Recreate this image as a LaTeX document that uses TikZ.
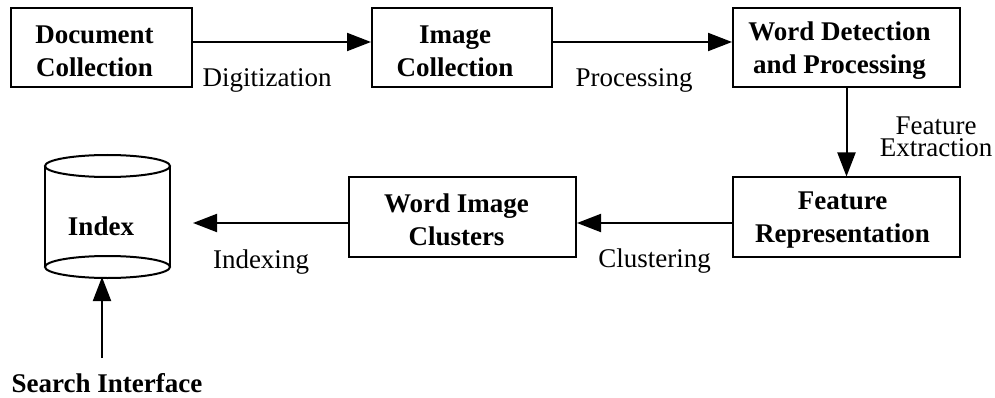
\documentclass[tikz,border=0pt]{standalone}
\usepackage{fontspec}
\setmainfont{Liberation Serif}
\usetikzlibrary{arrows.meta}
\begin{document}
\begin{tikzpicture}[x=1pt,y=1pt,
  box/.style={draw,line width=2pt,minimum width=#1,minimum height=79pt,inner sep=0pt},
  box/.default=181pt,
  boxtext/.style={inner sep=0pt,align=center,font=\fontsize{27}{33}\selectfont\bfseries,xshift=-7pt,yshift=-3pt},
  lbl/.style={font=\fontsize{27}{22}\selectfont,inner sep=0pt,align=center},
  blbl/.style={font=\fontsize{27}{33}\selectfont\bfseries,inner sep=0pt},
  conn/.style={line width=2pt,-{Triangle[length=24pt,width=18pt]}},
  cyl/.style={line width=2pt}
]
\useasboundingbox (0,0) rectangle (995,-398);
% boxes
\node[box=181pt] (doc) at (101.5,-48) {};
\node[box=180pt] (img) at (462,-48) {};
\node[box=227pt] (word) at (846.5,-48) {};
\node[box=227pt] (feat) at (846.5,-217) {};
\node[box=227pt] (clus) at (462.5,-217) {};
\node[boxtext] (doct) at (doc.center) {Document\\Collection};
\node[boxtext] (imgt) at (img.center) {Image\\Collection};
\node[boxtext] (wordt) at (word.center) {Word Detection\\and Processing};
\node[boxtext,xshift=3pt] (featt) at (feat.center) {Feature\\Representation};
\node[boxtext,xshift=1pt] (clust) at (clus.center) {Word Image\\Clusters};
% index cylinder
\draw[cyl] (107.5,-166) ellipse [x radius=62.5, y radius=11];
\draw[cyl] (45,-166) -- (45,-267) (170,-166) -- (170,-267);
\draw[cyl] (107.5,-267) ellipse [x radius=62.5, y radius=11];
\node[blbl,anchor=base] (index) at (101,-235) {Index};
\node[blbl,anchor=base] (search) at (107,-392) {Search Interface};
\coordinate (idxin) at (193,-223);
\coordinate (sfrom) at (102,-358);
\coordinate (sto) at (102,-277);
% connectors
\draw[conn] ([yshift=6pt]doc.east) -- ([yshift=6pt]img.west);
\draw[conn] ([yshift=6pt]img.east) -- ([yshift=6pt]word.west);
\draw[conn] (word.south) -- (feat.north);
\draw[conn] ([yshift=-6pt]feat.west) -- ([yshift=-6pt]clus.east);
\draw[conn] ([yshift=-6pt]clus.west) -- (idxin);
\draw[conn] (sfrom) -- (sto);
% labels
\node[lbl,anchor=base] (ldig) at (267,-87) {Digitization};
\node[lbl,anchor=base] (lproc) at (634,-87) {Processing};
\node[lbl] (lfeat) at (936,-137) {Feature\\Extraction};
\node[lbl,anchor=base] (lclus) at (654.5,-267) {Clustering};
\node[lbl,anchor=base] (lidx) at (261,-268) {Indexing};
\end{tikzpicture}
\end{document}
